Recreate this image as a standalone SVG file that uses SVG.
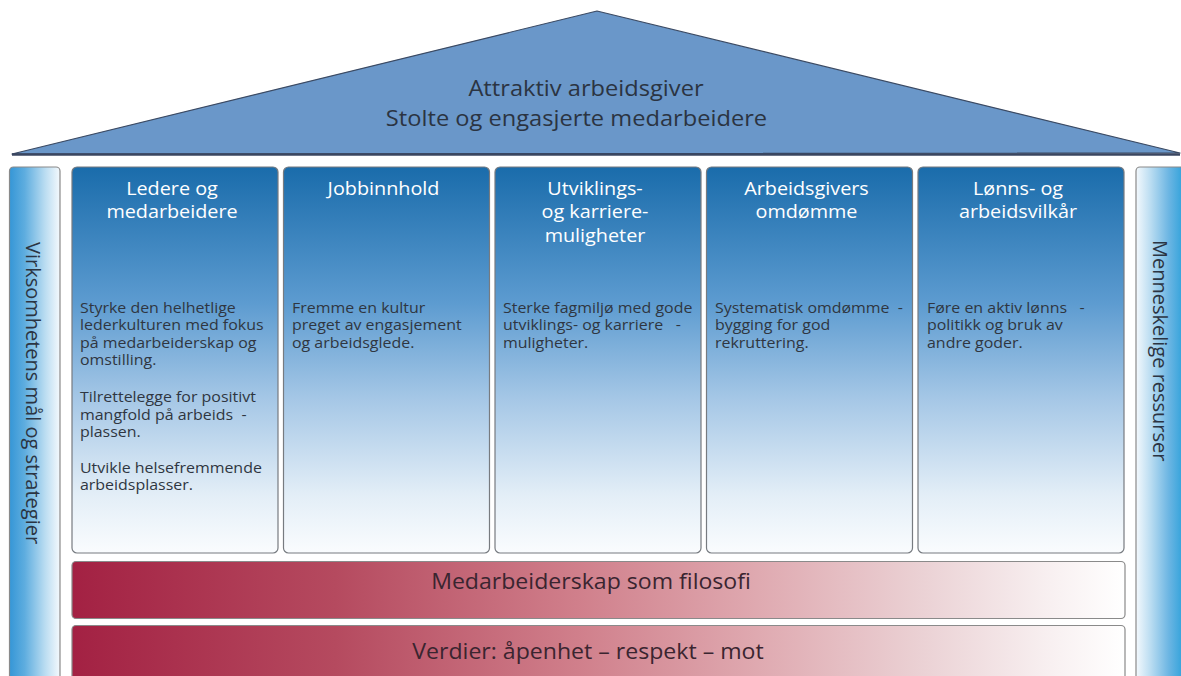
<svg xmlns="http://www.w3.org/2000/svg" width="1181" height="676" viewBox="0 0 1181 676">
  <defs>
    <linearGradient id="colGrad" x1="0" y1="0" x2="0" y2="1">
      <stop offset="0" stop-color="#1a6cab"/>
      <stop offset="0.35" stop-color="#5c9bd0"/>
      <stop offset="0.6" stop-color="#a5c7e6"/>
      <stop offset="0.85" stop-color="#e3eef7"/>
      <stop offset="1" stop-color="#fafcfe"/>
    </linearGradient>
    <linearGradient id="bandGrad" x1="0" y1="0" x2="1" y2="0">
      <stop offset="0" stop-color="#a32143"/>
      <stop offset="0.25" stop-color="#b54a5f"/>
      <stop offset="0.48" stop-color="#d07f8b"/>
      <stop offset="0.65" stop-color="#dfa9b0"/>
      <stop offset="0.81" stop-color="#ebd2d5"/>
      <stop offset="0.93" stop-color="#f8f0f1"/>
      <stop offset="1" stop-color="#ffffff"/>
    </linearGradient>
    <linearGradient id="pillarL" x1="0" y1="0" x2="1" y2="0">
      <stop offset="0" stop-color="#3596d6"/>
      <stop offset="0.3" stop-color="#5eaddf"/>
      <stop offset="0.7" stop-color="#b9dcf1"/>
      <stop offset="1" stop-color="#f4f9fd"/>
    </linearGradient>
    <linearGradient id="pillarR" x1="0" y1="0" x2="1" y2="0">
      <stop offset="0" stop-color="#f4f9fd"/>
      <stop offset="0.3" stop-color="#b9dcf1"/>
      <stop offset="0.65" stop-color="#6db6e3"/>
      <stop offset="0.9" stop-color="#3aa5dc"/>
      <stop offset="1" stop-color="#3596d6"/>
    </linearGradient>
    <style>
      .col { fill: url(#colGrad); stroke: #777b80; stroke-width: 1.2; }
      .band { fill: url(#bandGrad); stroke: #8a8a8a; stroke-width: 1.2; }
      .pillar { stroke: #8a8a8a; stroke-width: 1.2; }
      .hdr { font-family: "Open Sans", "Liberation Sans", sans-serif; font-size: 18px; fill: #ffffff; text-anchor: middle; }
      .body { font-family: "Open Sans", "Liberation Sans", sans-serif; font-size: 14.5px; fill: #2f3641; }
      .title { font-family: "Open Sans", "Liberation Sans", sans-serif; font-size: 21.5px; fill: #2b3442; text-anchor: middle; }
      .bandtxt { font-family: "Open Sans", "Liberation Sans", sans-serif; font-size: 21px; fill: #3a2530; text-anchor: middle; }
      .side { font-family: "Open Sans", "Liberation Sans", sans-serif; font-size: 20px; fill: #2b3442; }
    </style>
  </defs>
  <rect width="1181" height="676" fill="#ffffff"/>

  <g id="roof">
    <polygon points="12,154 597,11 1180,153" fill="#6a97c9" stroke="#3b4a63" stroke-width="1.2" stroke-linejoin="round"/>
    <line x1="12" y1="154.5" x2="1180" y2="154.5" stroke="#3a4660" stroke-width="2.5"/>
    <text class="title" x="532.73" y="96" transform="scale(1.1 1)">Attraktiv arbeidsgiver</text>
    <text class="title" x="524.09" y="126" transform="scale(1.1 1)">Stolte og engasjerte medarbeidere</text>
  </g>

  <g id="pillar-left">
    <rect class="pillar" x="9.5" y="167" width="50.5" height="530" rx="4" fill="url(#pillarL)"/>
    <text class="side" transform="translate(26,242) rotate(90)">Virksomhetens mål og strategier</text>
  </g>

  <g id="pillar-right">
    <rect class="pillar" x="1136" y="167" width="50" height="530" rx="4" fill="url(#pillarR)"/>
    <text class="side" transform="translate(1153,240) rotate(90)">Menneskelige ressurser</text>
  </g>

  <g id="col-ledere">
    <rect class="col" x="72" y="167" width="206" height="386" rx="5"/>
    <text class="hdr" x="156.36" y="195" transform="scale(1.1 1)">Ledere og</text>
    <text class="hdr" x="156.36" y="218.5" transform="scale(1.1 1)">medarbeidere</text>
    <g class="body" transform="scale(1.1 1)">
      <text x="72.73" y="313">Styrke den helhetlige</text>
      <text x="72.73" y="330.5">lederkulturen med fokus</text>
      <text x="72.73" y="348">på medarbeiderskap og</text>
      <text x="72.73" y="365.5">omstilling.</text>
      <text x="72.73" y="402.5">Tilrettelegge for positivt</text>
      <text x="72.73" y="420">mangfold på arbeids&#160; -</text>
      <text x="72.73" y="437.5">plassen.</text>
      <text x="72.73" y="473">Utvikle helsefremmende</text>
      <text x="72.73" y="490.5">arbeidsplasser.</text>
    </g>
  </g>

  <g id="col-jobbinnhold">
    <rect class="col" x="283.5" y="167" width="206" height="386" rx="5"/>
    <text class="hdr" x="348.64" y="195" transform="scale(1.1 1)">Jobbinnhold</text>
    <g class="body" transform="scale(1.1 1)">
      <text x="265.45" y="313">Fremme en kultur</text>
      <text x="265.45" y="330.5">preget av engasjement</text>
      <text x="265.45" y="348">og arbeidsglede.</text>
    </g>
  </g>

  <g id="col-utvikling">
    <rect class="col" x="495" y="167" width="206" height="386" rx="5"/>
    <text class="hdr" x="540.91" y="195" transform="scale(1.1 1)">Utviklings-</text>
    <text class="hdr" x="540.91" y="218.5" transform="scale(1.1 1)">og karriere-</text>
    <text class="hdr" x="540.91" y="242" transform="scale(1.1 1)">muligheter</text>
    <g class="body" transform="scale(1.1 1)">
      <text x="457.27" y="313">Sterke fagmiljø med gode</text>
      <text x="457.27" y="330.5">utviklings- og karriere&#160;&#160; -</text>
      <text x="457.27" y="348">muligheter.</text>
    </g>
  </g>

  <g id="col-omdomme">
    <rect class="col" x="706.5" y="167" width="206" height="386" rx="5"/>
    <text class="hdr" x="733.18" y="195" transform="scale(1.1 1)">Arbeidsgivers</text>
    <text class="hdr" x="733.18" y="218.5" transform="scale(1.1 1)">omdømme</text>
    <g class="body" transform="scale(1.1 1)">
      <text x="650" y="313">Systematisk omdømme&#160; -</text>
      <text x="650" y="330.5">bygging for god</text>
      <text x="650" y="348">rekruttering.</text>
    </g>
  </g>

  <g id="col-lonn">
    <rect class="col" x="918" y="167" width="206" height="386" rx="5"/>
    <text class="hdr" x="925.45" y="195" transform="scale(1.1 1)">Lønns- og</text>
    <text class="hdr" x="925.45" y="218.5" transform="scale(1.1 1)">arbeidsvilkår</text>
    <g class="body" transform="scale(1.1 1)">
      <text x="842.73" y="313">Føre en aktiv lønns&#160;&#160; -</text>
      <text x="842.73" y="330.5">politikk og bruk av</text>
      <text x="842.73" y="348">andre goder.</text>
    </g>
  </g>

  <g id="band-medarbeiderskap">
    <rect class="band" x="72" y="561.5" width="1053" height="57" rx="4"/>
    <text class="bandtxt" x="537.27" y="589" transform="scale(1.1 1)">Medarbeiderskap som filosofi</text>
  </g>

  <g id="band-verdier">
    <rect class="band" x="72" y="625.5" width="1053" height="70" rx="4"/>
    <text class="bandtxt" x="534.55" y="659" transform="scale(1.1 1)">Verdier: åpenhet – respekt – mot</text>
  </g>

  <g id="connectors"/>
</svg>
